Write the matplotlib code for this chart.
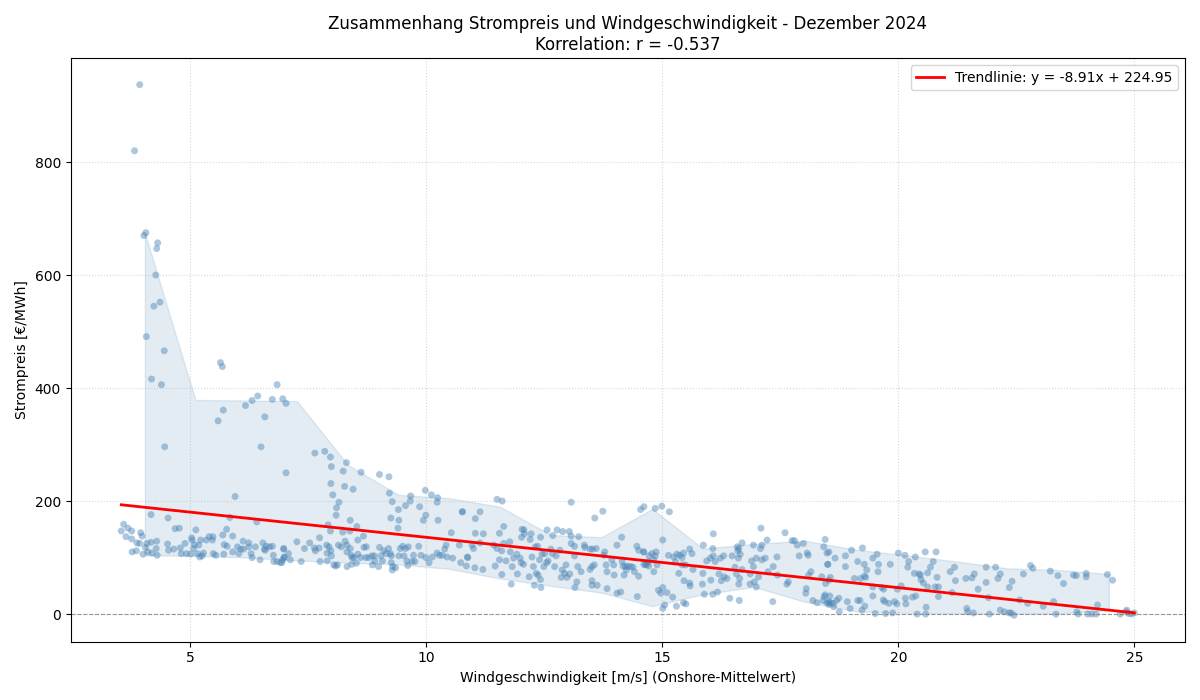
import numpy as np
import matplotlib
matplotlib.use("Agg")
import matplotlib.pyplot as plt

# ---- scatter data (wind m/s, price EUR/MWh) ----
wind_outliers = [3.93, 3.82, 4.06, 4.02, 4.31, 4.29, 4.27, 4.23, 4.36, 4.07, 4.45, 4.18, 4.39,
                 5.64, 5.68, 5.70, 5.59, 6.17, 6.31, 6.43, 6.58, 6.74, 6.84, 6.96, 7.03, 6.50,
                 7.64, 7.85, 7.97, 4.46, 7.03, 5.95, 4.17, 4.53, 5.84, 6.41]
price_outliers = [937, 820, 675, 670, 657, 647, 600, 545, 552, 491, 466, 416, 406,
                  445, 438, 361, 342, 369, 378, 386, 349, 380, 406, 381, 373, 296,
                  285, 288, 278, 296, 250, 208, 176, 170, 171, 163]

wind_low = [3.59, 3.54, 3.68, 3.76, 3.64, 3.76, 3.95, 3.98, 3.87, 3.93, 3.77, 3.86, 4.00, 4.08,
            4.17, 4.29, 4.05, 4.10, 4.19, 4.28, 4.30, 4.52, 4.54, 4.65, 4.68, 4.77, 4.79, 4.81,
            4.89, 4.92, 5.01, 5.03, 5.04, 5.12, 5.09, 5.18, 5.07, 5.15, 5.20, 5.25, 5.28, 5.22,
            5.34, 5.40, 5.47, 5.48, 5.49, 5.54, 5.71, 5.69, 5.72, 5.77, 5.78, 5.90, 5.90, 6.00,
            6.03, 6.07, 6.12, 6.13, 6.24, 6.24, 6.29, 6.31, 6.38, 6.48, 6.54, 6.57, 6.61, 6.68,
            6.74, 6.59, 6.76, 6.77, 6.84, 6.91, 6.98, 6.99, 6.96, 7.08]
price_low = [159, 147, 152, 147, 137, 133, 144, 138, 126, 125, 110, 112, 106, 125,
             127, 129, 118, 110, 108, 116, 104, 124, 113, 115, 151, 152, 117, 107,
             125, 107, 106, 135, 131, 149, 123, 122, 116, 107, 101, 103, 108, 131,
             131, 137, 131, 137, 107, 104, 106, 140, 123, 150, 120, 138, 110, 119,
             107, 115, 129, 115, 126, 119, 107, 100, 119, 96, 126, 115, 120, 119,
             120, 113, 104, 93, 93, 91, 115, 100, 96, 107]

wind_mid = [7.99, 8.31, 8.24, 8.62, 7.98, 8.27, 8.45, 8.02, 8.15, 8.10, 8.09, 8.39, 9.01, 9.21,
            9.22, 9.28, 9.41, 9.56, 9.67, 9.66, 9.86, 9.98, 10.11, 10.24, 10.23, 9.99, 9.94,
            10.25, 10.76, 9.25, 9.42, 9.40, 10.53, 7.92, 7.97, 8.23, 8.38, 8.53, 8.67, 8.55,
            7.74, 7.26, 7.53, 7.42, 7.63, 7.65, 7.73, 7.89, 7.94, 8.14, 7.98, 7.90, 7.99, 7.90,
            8.04, 8.08, 8.12, 8.32, 8.20, 8.28, 8.32, 8.39, 8.32, 8.41, 8.43, 8.47, 8.55, 8.52,
            8.42, 8.61, 8.68, 8.73, 8.72, 8.78, 8.85, 8.86, 8.90, 8.91, 8.99, 9.01, 9.04, 9.07,
            9.10, 9.15, 9.20, 9.24, 9.26, 9.26, 9.29, 9.28, 9.35, 9.42, 9.45, 9.50, 9.56, 9.62,
            9.53, 9.59, 9.61, 9.70, 9.73, 9.76, 9.84, 9.89, 9.99, 10.06, 10.13, 10.23, 10.28,
            10.34, 10.39, 10.42, 10.44, 10.56, 10.70, 10.73, 10.85, 10.87, 7.35, 7.12, 6.98,
            6.99, 6.94, 7.75]
price_mid = [261, 268, 253, 251, 231, 226, 221, 211, 198, 188, 175, 166, 247, 243,
             214, 199, 185, 192, 209, 200, 190, 219, 211, 206, 198, 175, 166,
             166, 181, 170, 166, 152, 144, 158, 147, 145, 147, 155, 138, 131,
             135, 128, 126, 116, 117, 112, 117, 122, 119, 122, 112, 108, 103, 94,
             87, 85, 87, 84, 119, 129, 122, 116, 110, 104, 100, 100, 106, 90,
             88, 100, 118, 119, 100, 100, 103, 87, 103, 94, 84, 118, 103, 94,
             112, 107, 116, 107, 91, 103, 84, 78, 82, 103, 116, 120, 116, 119,
             103, 94, 86, 93, 104, 93, 120, 104, 100, 91, 101, 108, 104,
             104, 115, 122, 101, 99, 122, 91, 85, 101, 93, 96, 116,
             101, 91, 93]

wind_high = [11.50, 11.61, 13.07, 10.77, 11.14, 11.04, 13.74, 13.57, 14.54, 14.61, 11.21, 11.64,
             11.55, 12.03, 12.07, 12.08, 12.22, 12.20, 12.42, 12.56, 12.68, 12.77, 12.89, 13.03,
             13.07, 13.23, 14.14, 10.97, 11.00, 11.14, 10.88, 11.03, 11.20, 11.46, 11.60, 11.80,
             11.82, 11.43, 11.50, 11.60, 11.64, 11.78, 11.85, 11.92, 11.69, 11.55, 12.02, 11.99,
             12.01, 12.06, 11.93, 12.18, 12.27, 12.33, 12.37, 12.42, 12.29, 12.43, 12.24, 12.31,
             12.36, 12.40, 12.45, 12.51, 12.49, 12.55, 12.58, 12.64, 12.67, 12.72, 12.75, 12.83,
             12.88, 12.86, 12.93, 12.96, 12.98, 13.04, 13.07, 13.14, 13.14, 13.19, 13.15, 13.21,
             13.28, 13.35, 13.36, 13.47, 13.52, 13.47, 13.51, 13.56, 13.60, 13.51, 13.51, 13.62,
             13.76, 13.78, 13.81, 13.83, 13.83, 13.93, 13.97, 13.98, 14.04, 14.04, 14.12, 14.15,
             14.17, 14.19, 14.22, 14.24, 14.27, 14.33, 14.38, 14.41, 14.50, 14.47, 14.46, 14.50,
             14.60, 14.61, 14.67, 14.72, 14.71, 11.04, 11.77]
price_high = [203, 200, 198, 181, 181, 169, 182, 170, 185, 190, 142, 155,
              143, 150, 149, 142, 142, 132, 136, 149, 139, 149, 146, 146,
              138, 137, 136, 122, 116, 126, 100, 82, 79, 85, 70, 53,
              84, 122, 116, 112, 125, 110, 99, 106, 94, 96, 136, 99,
              91, 88, 71, 66, 84, 72, 69, 61, 51, 47, 101, 119,
              120, 96, 106, 107, 84, 91, 94, 115, 107, 84, 103, 113,
              78, 65, 72, 87, 65, 71, 125, 120, 103, 57, 47, 84,
              75, 122, 118, 115, 115, 79, 84, 87, 116, 59, 51, 51,
              104, 110, 87, 75, 45, 96, 87, 69, 122, 37, 39, 93,
              85, 69, 84, 78, 85, 84, 83, 75, 67, 31, 120, 113,
              110, 88, 88, 103, 93, 143, 128]

wind_strong = [14.85, 14.99, 15.15, 15.01, 14.61, 14.78, 14.87, 14.85, 14.82, 14.64, 14.71, 14.89,
               14.82, 14.92, 15.01, 14.97, 15.10, 15.22, 15.05, 15.01, 15.30, 15.45, 15.50, 15.13,
               15.24, 15.31, 15.37, 15.42, 15.45, 15.28, 15.42, 15.58, 15.63, 15.49, 15.65, 15.35,
               15.46, 15.58, 15.59, 15.86, 15.87, 15.85, 15.89, 15.94, 16.02, 16.03, 16.07, 16.07,
               16.08, 16.08, 16.12, 16.17, 16.20, 16.23, 16.25, 16.30, 16.31, 16.37, 16.43, 16.48,
               16.54, 16.57, 16.59, 16.61, 16.60, 16.62, 16.62, 16.63, 16.64, 16.65, 16.69, 16.69,
               16.86, 16.86, 16.89, 16.93, 16.95, 16.93, 16.99, 16.99, 17.04, 17.08, 17.11, 17.09,
               17.11, 17.18, 17.22, 17.24, 17.34, 17.35, 17.43, 17.44, 17.60, 17.64, 17.67, 17.75,
               17.80, 17.86, 17.90, 17.99, 18.04, 18.05, 18.07, 18.09, 18.15, 18.10, 18.19, 18.28,
               18.38, 18.43, 18.41, 18.45, 18.42, 18.49, 18.50, 18.53, 18.49, 18.56, 18.45, 18.53]
price_strong = [187, 191, 181, 131, 110, 107, 110, 103, 96, 87, 85, 87,
                75, 42, 47, 37, 38, 30, 16, 10, 14, 20, 18, 104,
                101, 106, 104, 100, 108, 93, 87, 115, 107, 87, 79, 72,
                59, 55, 50, 72, 122, 53, 35, 94, 99, 60, 116, 35,
                103, 142, 93, 39, 71, 99, 59, 103, 66, 63, 28, 103,
                83, 71, 119, 99, 112, 116, 53, 24, 63, 106, 126, 79,
                71, 53, 94, 122, 57, 84, 48, 99, 66, 116, 122, 152,
                96, 99, 131, 75, 22, 84, 101, 69, 144, 53, 57, 130,
                130, 122, 103, 125, 37, 45, 108, 104, 75, 69, 24, 20,
                66, 31, 24, 132, 119, 108, 88, 60, 20, 20, 34, 17]

wind_storm = [18.53, 18.66, 18.51, 18.56, 18.46, 18.55, 18.53, 18.62, 18.63, 18.69, 18.74, 18.75,
              18.88, 18.88, 18.92, 18.98, 19.01, 19.07, 19.14, 19.14, 19.19, 19.20, 19.24, 19.23,
              19.28, 19.28, 19.31, 19.33, 19.29, 19.46, 19.46, 19.46, 19.51, 19.55, 19.57, 19.58,
              19.65, 19.69, 19.68, 19.71, 19.73, 19.80, 19.83, 19.88, 19.92, 19.97, 19.98, 20.00,
              20.06, 20.14, 20.15, 20.16, 20.20, 20.22, 20.30, 20.36, 20.37, 20.34, 20.40, 20.44,
              20.47, 20.48, 20.53, 20.57, 20.58, 20.59, 20.62, 20.62, 20.68, 20.74, 20.80, 20.78,
              20.82, 20.85, 20.85, 21.10, 21.14, 21.19, 21.21, 21.43, 21.45, 21.47, 21.56, 21.59,
              21.61, 21.69, 21.86, 21.86, 21.93, 21.91, 22.06, 22.11, 22.16, 22.16, 22.25, 22.35,
              22.41, 22.35, 22.39, 22.45, 22.57, 22.65, 22.74, 22.80, 22.85, 23.07, 23.22, 23.29,
              23.34, 23.38, 23.50, 23.71, 23.77, 23.78, 23.81, 23.98, 23.98, 24.01, 24.10, 24.19,
              24.22, 24.43, 24.54, 24.70, 24.84, 24.83, 24.88, 24.94, 25.00]
price_storm = [110, 99, 88, 65, 54, 32, 22, 19, 13, 24, 28, 4,
               103, 84, 22, 10, 113, 63, 24, 93, 24, 63, 117, 7,
               88, 67, 65, 78, 14, 32, 48, 99, 1, 106, 75, 88,
               47, 44, 25, 22, 1, 19, 88, 2, 22, 18, 44, 108,
               50, 104, 28, 18, 83, 93, 30, 101, 32, 72, 0, 71,
               69, 61, 55, 110, 0, 12, 73, 48, 83, 93, 110, 48,
               65, 48, 31, 75, 38, 83, 59, 63, 10, 4, 64, 2,
               71, 44, 83, 56, 0, 29, 83, 63, 71, 7, 4, 2,
               58, 47, 2, -2, 25, 71, 19, 86, 81, 14, 76, 22,
               0, 68, 54, 69, 68, 4, 0, 72, 66, 0, 0, 0,
               16, 70, 60, 0, 7, 4, 1, 0, 2]

# ---- percentile band per wind bin ----
band_x = [4.04, 5.11, 6.19, 7.26, 8.34, 9.41, 10.49, 11.56, 12.64, 13.71,
          14.79, 15.86, 16.94, 18.01, 19.09, 20.16, 21.24, 22.31, 23.39, 24.46]
band_lo = [104, 103, 100, 95, 91, 88, 80, 63, 50, 38,
           14, 35, 48, 22, 5, 2, 1, 1, 1, 7]
band_hi = [674, 379, 378, 377, 264, 211, 205, 190, 140, 136,
           186, 116, 124, 130, 114, 104, 93, 81, 78, 71]

# ---- regression ----
slope = -8.91
intercept = 224.95
corr_r = -0.537

wind = np.array(wind_outliers + wind_low + wind_mid + wind_high + wind_strong + wind_storm)
price = np.array(price_outliers + price_low + price_mid + price_high + price_strong + price_storm)

fig, ax = plt.subplots(figsize=(12, 7), dpi=100)

ax.fill_between(band_x, band_lo, band_hi, color="steelblue", alpha=0.15, linewidth=1)
ax.scatter(wind, price, s=25, color="steelblue", alpha=0.45, edgecolors="none")

x_line = np.array([wind.min(), wind.max()])
ax.plot(x_line, slope * x_line + intercept, color="red", linewidth=2,
        label=f"Trendlinie: y = {slope:.2f}x + {intercept:.2f}")

ax.axhline(0, color="gray", linestyle="--", linewidth=0.8, alpha=0.8)

ax.set_xlabel("Windgeschwindigkeit [m/s] (Onshore-Mittelwert)")
ax.set_ylabel("Strompreis [€/MWh]")
ax.set_title("Zusammenhang Strompreis und Windgeschwindigkeit - Dezember 2024\n"
             f"Korrelation: r = {corr_r:.3f}", fontsize=12)
ax.grid(True, linestyle=":", alpha=0.5)
ax.legend(loc="upper right")

fig.tight_layout()
fig.savefig("out.png", dpi=100)
